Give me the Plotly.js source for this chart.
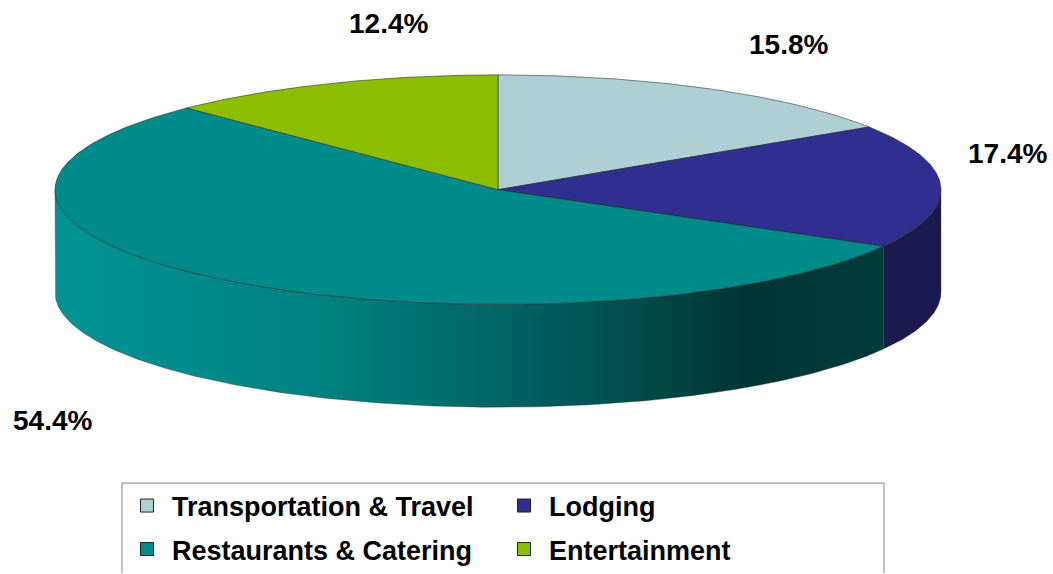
<!DOCTYPE html>
<html>
<head>
<meta charset="utf-8">
<script src="https://cdn.plot.ly/plotly-3.0.1.min.js"></script>
<style>html,body{margin:0;padding:0;background:#fff;}#chart{width:1053px;height:574px;}</style>
</head>
<body>
<div id="chart"></div>
<script>
// ---- data ----
const categories = ['Transportation & Travel', 'Lodging', 'Restaurants & Catering', 'Entertainment'];
const shares = [15.8, 17.4, 54.4, 12.4];
const colors = ['#AECFD3', '#2F2F8F', '#008B8B', '#8CBE00'];

// ---- geometry (layout) ----
const CX = 498, CY = 190, RX = 443, RY = 115, DEPTH = 103;
const labelPos = [[788, 45], [1007, 154], [52, 421], [388, 24]];

function pt(deg, dy) {
  const r = deg * Math.PI / 180;
  return [CX + RX * Math.sin(r), CY - RY * Math.cos(r) + (dy || 0)];
}
function arc(a0, a1, dy) {
  const n = Math.max(4, Math.ceil(Math.abs(a1 - a0) / 0.5));
  const out = [];
  for (let i = 0; i <= n; i++) out.push(pt(a0 + (a1 - a0) * i / n, dy));
  return out;
}

const total = shares.reduce((a, b) => a + b, 0);
const starts = [], ends = [];
let acc = 0;
shares.forEach(v => { starts.push(acc / total * 360); acc += v; ends.push(acc / total * 360); });

const traces = [];

function darken(hex, f) {
  const n = parseInt(hex.slice(1), 16);
  const r = Math.round(((n >> 16) & 255) * f), g = Math.round(((n >> 8) & 255) * f), b = Math.round((n & 255) * f);
  return 'rgb(' + r + ',' + g + ',' + b + ')';
}
// side faces (front half: 90..270 deg)
shares.forEach((v, i) => {
  const a0 = Math.max(starts[i], 90), a1 = Math.min(ends[i], 270);
  if (a1 <= a0) return;
  const top = arc(a0, a1, 0);
  const bot = arc(a1, a0, DEPTH);
  const pts = top.concat(bot);
  pts.push(top[0]);
  const tr = {
    type: 'scatter', mode: 'lines', fill: 'toself',
    x: pts.map(p => p[0]), y: pts.map(p => p[1]),
    line: {color: 'rgba(60,60,60,0.6)', width: 0.6},
    hoverinfo: 'skip', showlegend: false
  };
  if (i === 2) {
    tr.fillcolor = colors[i];
    tr.fillgradient = {
      type: 'horizontal',
      colorscale: [[0, '#009292'], [0.15, '#008c8c'], [0.35, '#007e7e'], [0.55, '#006262'], [0.72, '#004848'], [0.83, '#003535'], [1, '#003b3b']]
    };
  } else {
    tr.fillcolor = darken(colors[i], 0.55);
  }
  traces.push(tr);
});

// top face slices
shares.forEach((v, i) => {
  const pts = [[CX, CY]].concat(arc(starts[i], ends[i], 0));
  pts.push([CX, CY]);
  traces.push({
    type: 'scatter', mode: 'lines', fill: 'toself',
    x: pts.map(p => p[0]), y: pts.map(p => p[1]),
    fillcolor: colors[i],
    line: {color: 'rgba(30,30,30,0.75)', width: 0.7},
    hoverinfo: 'text', text: categories[i] + ': ' + v + '%',
    showlegend: false
  });
});

// legend entries: two rows of two (legend = row 1, legend2 = row 2)
categories.forEach((c, i) => {
  traces.push({
    type: 'scatter', mode: 'markers', x: [null], y: [null], name: c,
    legend: (i < 2) ? 'legend' : 'legend2',
    marker: {symbol: 'square', size: 13, color: colors[i], line: {color: '#222', width: 1}},
    showlegend: true
  });
});

const annotations = shares.map((v, i) => ({
  x: labelPos[i][0], y: labelPos[i][1], xref: 'x', yref: 'y',
  text: v.toFixed(1) + '%', showarrow: false,
  font: {family: 'Liberation Sans, Arial, sans-serif', size: 28, weight: 'bold', color: '#000'},
  xanchor: 'center', yanchor: 'middle'
}));

const legendFont = {family: 'Liberation Sans, Arial, sans-serif', size: 27, weight: 'bold', color: '#000'};
function legendRow(yc) {
  return {
    orientation: 'h', x: 122 / 1053, y: 1 - yc / 574, xanchor: 'left', yanchor: 'middle',
    entrywidth: 322, entrywidthmode: 'pixels', itemwidth: 40,
    borderwidth: 0, bgcolor: 'rgba(0,0,0,0)', font: legendFont, maxheight: 200
  };
}

const layout = {
  width: 1053, height: 574,
  margin: {l: 0, r: 0, t: 0, b: 0},
  paper_bgcolor: '#fff', plot_bgcolor: '#fff',
  xaxis: {range: [0, 1053], visible: false, fixedrange: true},
  yaxis: {range: [574, 0], visible: false, fixedrange: true},
  showlegend: true,
  legend: legendRow(506),
  legend2: legendRow(550),
  shapes: [{
    type: 'rect', xref: 'x', yref: 'y', x0: 122, x1: 884, y0: 484, y1: 600,
    line: {color: '#9a9a9a', width: 1.2}, fillcolor: 'rgba(0,0,0,0)', layer: 'below'
  }],
  annotations: annotations
};

Plotly.newPlot('chart', traces, layout, {displayModeBar: false, staticPlot: true});
</script>
</body>
</html>
